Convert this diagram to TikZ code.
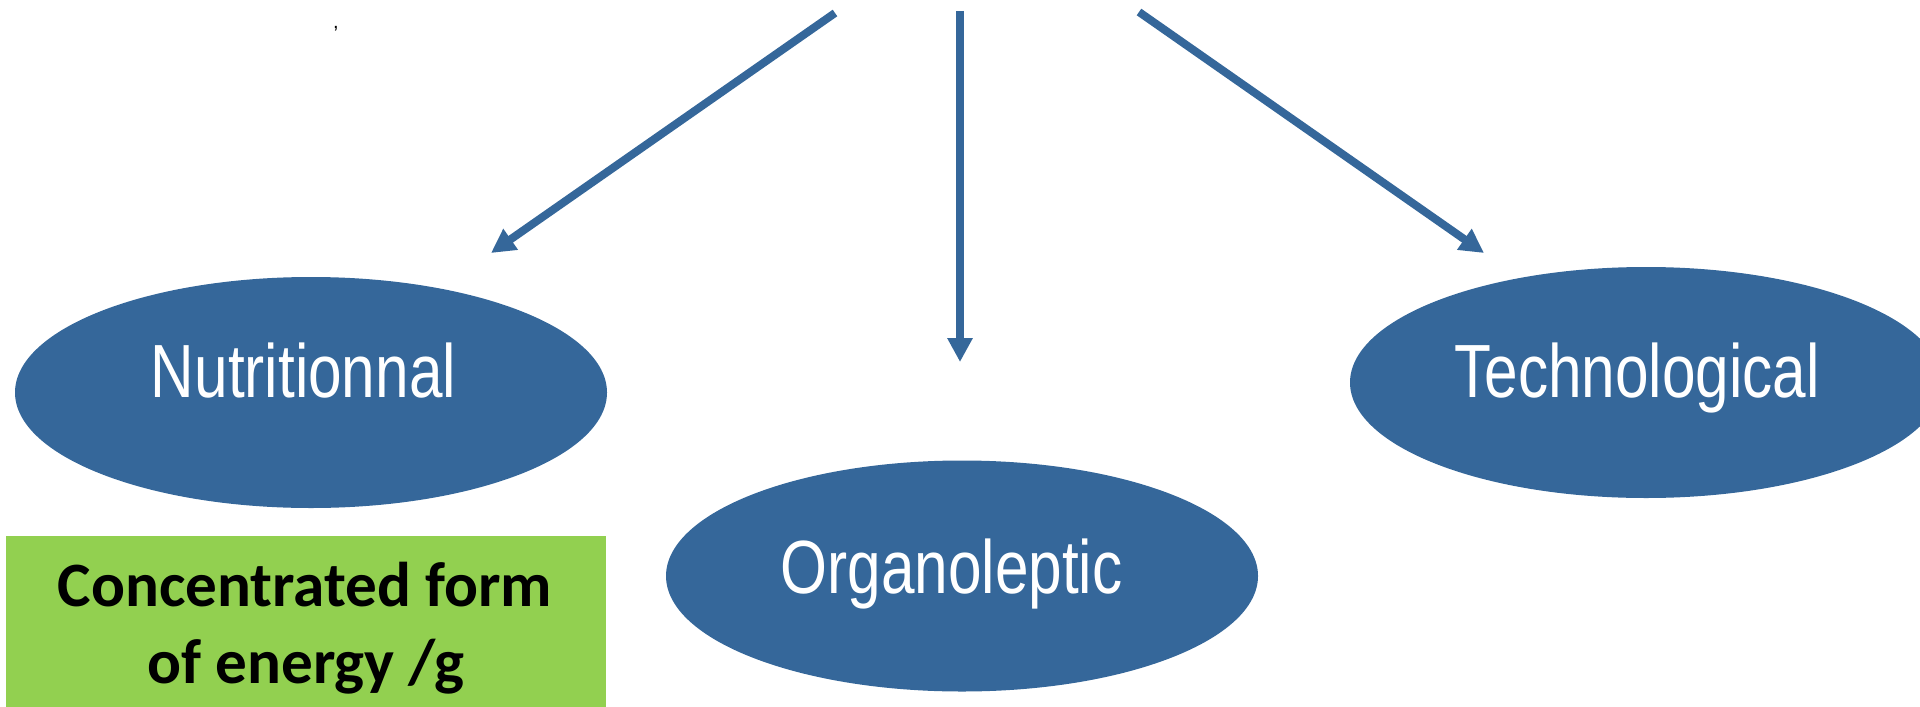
\documentclass[tikz,border=0pt]{standalone}
\usepackage{fontspec}
\usepackage{graphicx}
\usetikzlibrary{arrows.meta,shapes.geometric}
\newfontfamily\lsans{Liberation Sans}
\newfontfamily\carl{Carlito}
\definecolor{ellblue}{HTML}{35679A}
\definecolor{boxgreen}{HTML}{92D050}
\begin{document}
\begin{tikzpicture}[x=0.5pt,y=-0.5pt,
  blob/.style={ellipse, fill=ellblue, draw=none, minimum width=296pt, minimum height=115.5pt, inner sep=0pt},
  lbl/.style={text=white, font=\lsans\fontsize{37.7}{40}\selectfont, anchor=base, inner sep=0pt},
  arr/.style={draw=ellblue, line width=4pt, -{Triangle[length=12pt,width=12pt]}},
  gtext/.style={anchor=base, inner sep=0pt, text=black, font=\carl\bfseries\fontsize{31.6}{38.5}\selectfont},
]
\useasboundingbox (0,0) rectangle (1920,706);
% ellipses
\node[blob] (nut) at (311,392.5) {};
\node[blob] (org) at (962,576) {};
\node[blob] (tec) at (1646,382.5) {};
\node[lbl] (nutt) at (303.5,397.5) {\scalebox{0.8}[1]{Nutritionnal}};
\node[lbl] (orgt) at (951.5,593) {\scalebox{0.8}[1]{Organoleptic}};
\node[lbl] (tect) at (1637,397.6) {\scalebox{0.8}[1]{Technological}};
% arrows
\coordinate (s1) at (835,13);
\coordinate (e1) at (491,253);
\coordinate (s2) at (960,11);
\coordinate (e2) at (960,362);
\coordinate (s3) at (1139,12);
\coordinate (e3) at (1484,253);
\draw[arr] (s1) -- (e1);
\draw[arr] (s2) -- (e2);
\draw[arr] (s3) -- (e3);
% green box
\node[fill=boxgreen, draw=none, inner sep=0pt, minimum width=300pt, minimum height=88pt, anchor=north west] (gbox) at (6,536) {};
\node[gtext] (g1) at (305,606) {Concentrated form};
\node[gtext] (g2) at (306,683) {of energy /g};
% stray comma
\node[anchor=base, inner sep=0pt, font=\lsans\fontsize{10}{12}\selectfont] (cm) at (336,29) {,};
\end{tikzpicture}
\end{document}
